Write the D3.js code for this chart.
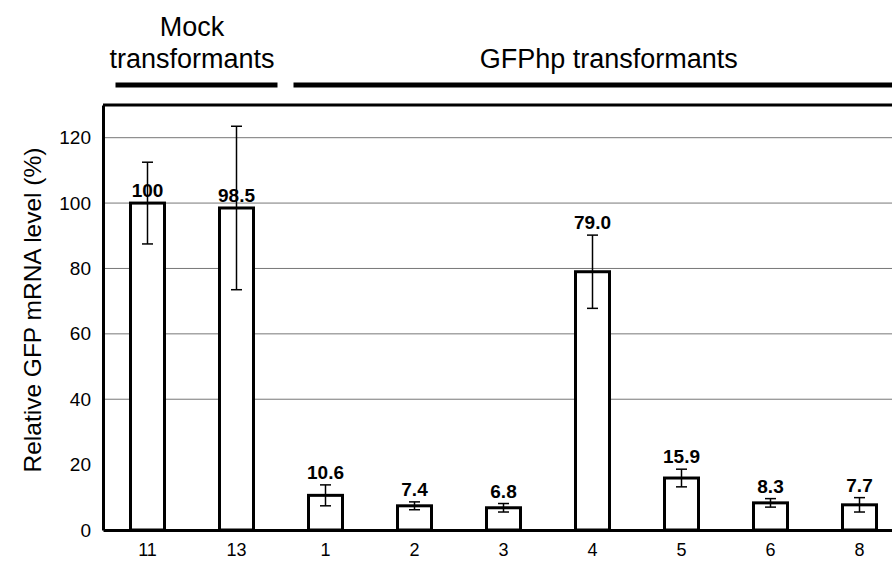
<!DOCTYPE html>
<html>
<head>
<meta charset="utf-8">
<script src="https://cdn.jsdelivr.net/npm/d3@7"></script>
<style>
	body { margin: 0; background: #fff; }
	svg { display: block; font-family: "Liberation Sans", Arial, sans-serif; }
</style>
</head>
<body>
<svg id="chart" width="892" height="561"></svg>
<script>
// transformant lines, in plot order
var lines = ['11', '13', '1', '2', '3', '4', '5', '6', '8'];
var levels = [100, 98.5, 10.6, 7.4, 6.8, 79.0, 15.9, 8.3, 7.7];
var errs = [12.5, 25, 3.2, 1.2, 1.3, 11.2, 2.7, 1.3, 2.2];
var labels = ['100', '98.5', '10.6', '7.4', '6.8', '79.0', '15.9', '8.3', '7.7'];
var yTicks = [0, 20, 40, 60, 80, 100, 120];
var gridTicks = [40, 60, 80, 100, 120];
var groupNames = [['Mock', 'transformants'], ['GFPhp transformants']];
var groupFirst = ['11', '1'];
var groupLast = ['13', '8'];

var svg = d3.select('#chart');
var W = 892;

var x = d3.scaleBand()
	.domain(lines)
	.range([103, 904])
	.paddingInner(0.618)
	.paddingOuter(0.309);

var y = d3.scaleLinear()
	.domain([0, 130])
	.range([530, 105]);

// grid
svg.append('g')
	.selectAll('line')
	.data(gridTicks)
	.enter().append('line')
	.attr('x1', 103).attr('x2', W)
	.attr('y1', d => y(d)).attr('y2', d => y(d))
	.attr('stroke', '#777')
	.attr('stroke-width', 1);

// top frame
svg.append('line')
	.attr('x1', 103).attr('x2', W)
	.attr('y1', y(130)).attr('y2', y(130))
	.attr('stroke', 'black')
	.attr('stroke-width', 3);

var rows = lines.map((d, i) => ({ k: d, v: levels[i], e: errs[i], t: labels[i], mock: i < 2 }));

// bars
svg.append('g')
	.selectAll('rect')
	.data(rows)
	.enter().append('rect')
	.attr('x', d => x(d.k))
	.attr('width', x.bandwidth())
	.attr('y', d => y(d.v))
	.attr('height', d => y(0) - y(d.v))
	.attr('fill', 'white')
	.attr('stroke', 'black')
	.attr('stroke-width', 3);

// error bars
var eb = svg.append('g')
	.selectAll('g')
	.data(rows)
	.enter().append('g')
	.attr('transform', d => 'translate(' + (x(d.k) + x.bandwidth() / 2) + ',0)')
	.attr('stroke', 'black')
	.attr('stroke-width', 1.5);

eb.append('line')
	.attr('y1', d => y(d.v + d.e))
	.attr('y2', d => y(d.v - d.e));
eb.append('line')
	.attr('x1', -5.5).attr('x2', 5.5)
	.attr('y1', d => y(d.v + d.e)).attr('y2', d => y(d.v + d.e));
eb.append('line')
	.attr('x1', -5.5).attr('x2', 5.5)
	.attr('y1', d => y(d.v - d.e)).attr('y2', d => y(d.v - d.e));

// value labels
svg.append('g')
	.selectAll('text')
	.data(rows)
	.enter().append('text')
	.attr('x', d => x(d.k) + x.bandwidth() / 2)
	.attr('y', d => (d.mock ? y(d.v) : y(d.v + d.e)) - 6)
	.attr('text-anchor', 'middle')
	.attr('font-size', 19)
	.attr('font-weight', 'bold')
	.text(d => d.t);

// axes
var yaxis = svg.append('g')
	.attr('transform', 'translate(103,0)')
	.call(d3.axisLeft(y).tickValues(yTicks).tickSize(0).tickPadding(12));
yaxis.select('.domain').attr('stroke-width', 3);
yaxis.selectAll('text').attr('font-size', 19).attr('font-family', null).attr('fill', 'black');

var xaxis = svg.append('g')
	.attr('transform', 'translate(0,530)')
	.call(d3.axisBottom(x).tickSize(0).tickPadding(13));
xaxis.select('.domain').attr('stroke-width', 3);
xaxis.selectAll('text').attr('font-size', 18).attr('font-family', null).attr('fill', 'black');

svg.append('text')
	.attr('transform', 'translate(41,310) rotate(-90)')
	.attr('text-anchor', 'middle')
	.attr('font-size', 24.5)
	.text('Relative GFP mRNA level (%)');

// group headers
groupNames.forEach(function(names, i) {
	var x0 = x(groupFirst[i]) - 15;
	var x1 = i == groupNames.length - 1 ? x.range()[1] + 20 : x(groupLast[i]) + x.bandwidth() + 24;
	svg.append('line')
		.attr('x1', x0).attr('x2', x1)
		.attr('y1', 85).attr('y2', 85)
		.attr('stroke', 'black')
		.attr('stroke-width', 5);
	var cx = i == 0 ? (x(groupFirst[i]) + x(groupLast[i]) + x.bandwidth()) / 2 : (x0 + x1) / 2;
	var t = svg.append('text')
		.attr('text-anchor', 'middle')
		.attr('font-size', 27);
	names.forEach(function(n, j) {
		t.append('tspan')
			.attr('x', cx)
			.attr('y', 68 - (names.length - 1 - j) * 32)
			.text(n);
	});
});
</script>
</body>
</html>
